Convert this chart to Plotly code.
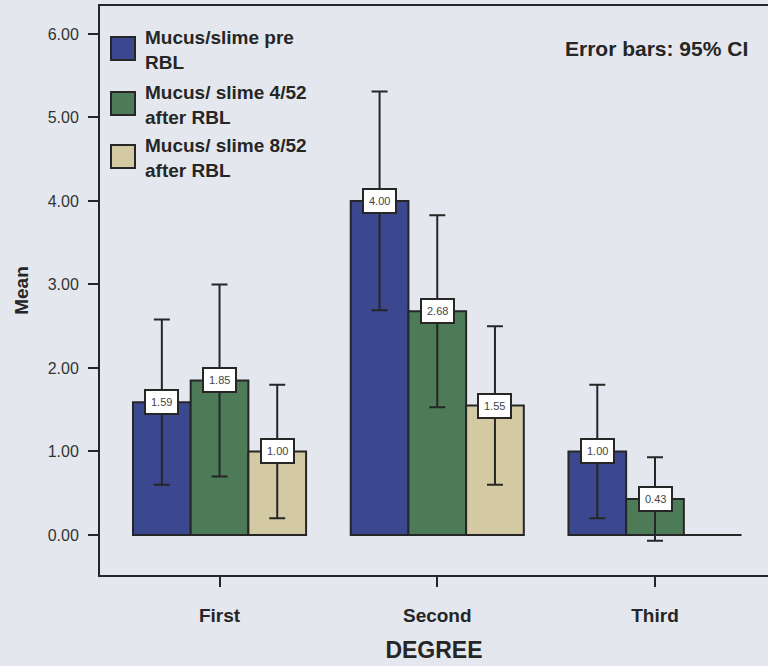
import plotly.graph_objects as go

# Mean of the mucus/slime score by haemorrhoid degree, with 95% CI
categories = ["First", "Second", "Third"]
series_names = [
    "Mucus/slime pre<br>RBL",
    "Mucus/ slime 4/52<br>after RBL",
    "Mucus/ slime 8/52<br>after RBL",
]
means_pre = [1.59, 4.00, 1.00]
means_4wk = [1.85, 2.68, 0.43]
means_8wk = [1.00, 1.55, 0.00]
ci_pre = [0.99, 1.31, 0.80]
ci_4wk = [1.15, 1.15, 0.50]
ci_8wk = [0.80, 0.95, None]
y_ticks = [0, 1, 2, 3, 4, 5, 6]

colors = ["#3b4890", "#4e7b57", "#d3caa4"]
bg = "#e4e8ee"
ink = "#262626"
font_main = "Liberation Sans, Arial, sans-serif"

W, H = 768, 666
ML, MR, MT, MB = 100, 0, 6, 91
x_range = [-0.549, 2.519]
y_range = [-0.48, 6.335]
bargap = 0.205
n_series = 3
bar_w = (1 - bargap) / n_series

xs = list(range(len(categories)))
fig = go.Figure()

all_means = [means_pre, means_4wk, means_8wk]
all_ci = [ci_pre, ci_4wk, ci_8wk]
for name, vals, ci, col in zip(series_names, all_means, all_ci, colors):
    arr = [c if c is not None else 0 for c in ci]
    fig.add_trace(go.Bar(
        x=xs, y=vals, name=name,
        marker=dict(color=col, line=dict(color=ink, width=2)),
        error_y=dict(type="data", array=arr, visible=True, color=ink,
                     thickness=2, width=8),
        showlegend=False,
    ))

# Value boxes at the top of each bar
annotations = []
for si, (vals, ci) in enumerate(zip(all_means, all_ci)):
    for ci_idx, v in enumerate(vals):
        if ci[ci_idx] is None:
            continue
        xc = xs[ci_idx] + (si - 1) * bar_w
        annotations.append(dict(
            x=xc, y=v, xref="x", yref="y", text=f"{v:.2f}",
            showarrow=False, xanchor="center", yanchor="middle",
            font=dict(family=font_main, size=11, color="#444"),
            bgcolor="white", bordercolor=ink, borderwidth=2, borderpad=5,
        ))


def px_to_paper(px, py):
    return (px - ML) / (W - ML - MR), 1 - (py - MT) / (H - MT - MB)


# Legend drawn as swatches plus labels
shapes = []
sw_tops = [37, 92, 145]
for top, col, name in zip(sw_tops, colors, series_names):
    x0, y0 = px_to_paper(111, top)
    x1, y1 = px_to_paper(135, top + 23)
    shapes.append(dict(type="rect", xref="paper", yref="paper",
                       x0=x0, x1=x1, y0=y1, y1=y0,
                       fillcolor=col, line=dict(color=ink, width=2)))
    tx, ty = px_to_paper(143, top + 13)
    annotations.append(dict(
        x=tx, y=ty, xref="paper", yref="paper", text=f"<b>{name}</b>",
        showarrow=False, xanchor="left", yanchor="middle", align="left",
        font=dict(family=font_main, size=19, color=ink),
    ))

ex, ey = px_to_paper(750, 48)
annotations.append(dict(
    x=ex, y=ey, xref="paper", yref="paper", text="<b>Error bars: 95% CI</b>",
    showarrow=False, xanchor="right", yanchor="middle",
    font=dict(family=font_main, size=21, color=ink),
))

fig.update_layout(
    width=W, height=H,
    margin=dict(l=ML, r=MR, t=MT, b=MB),
    paper_bgcolor=bg, plot_bgcolor=bg,
    barmode="group", bargap=bargap, bargroupgap=0,
    annotations=annotations, shapes=shapes,
    font=dict(family=font_main, color=ink),
)
fig.update_xaxes(
    range=x_range, tickvals=xs, ticktext=[f"<b>{c}</b>" for c in categories],
    showline=True, mirror=True, linecolor=ink, linewidth=2,
    ticks="outside", ticklen=10, tickwidth=2, tickcolor=ink,
    tickfont=dict(size=19, color=ink), ticklabelstandoff=12,
    showgrid=False, zeroline=False,
    title=dict(text="<b>DEGREE</b>", font=dict(size=23, color=ink), standoff=17),
)
fig.update_yaxes(
    range=y_range, tickvals=y_ticks, ticktext=[f"{t:.2f}" for t in y_ticks],
    showline=True, mirror=False, linecolor=ink, linewidth=2,
    ticks="outside", ticklen=10, tickwidth=2, tickcolor=ink,
    tickfont=dict(family=font_main, size=16, color="#333"),
    ticklabelstandoff=6,
    showgrid=False, zeroline=False,
    title=dict(text="<b>Mean</b>", font=dict(size=19, color=ink), standoff=14),
)

fig.write_html("out.html")
